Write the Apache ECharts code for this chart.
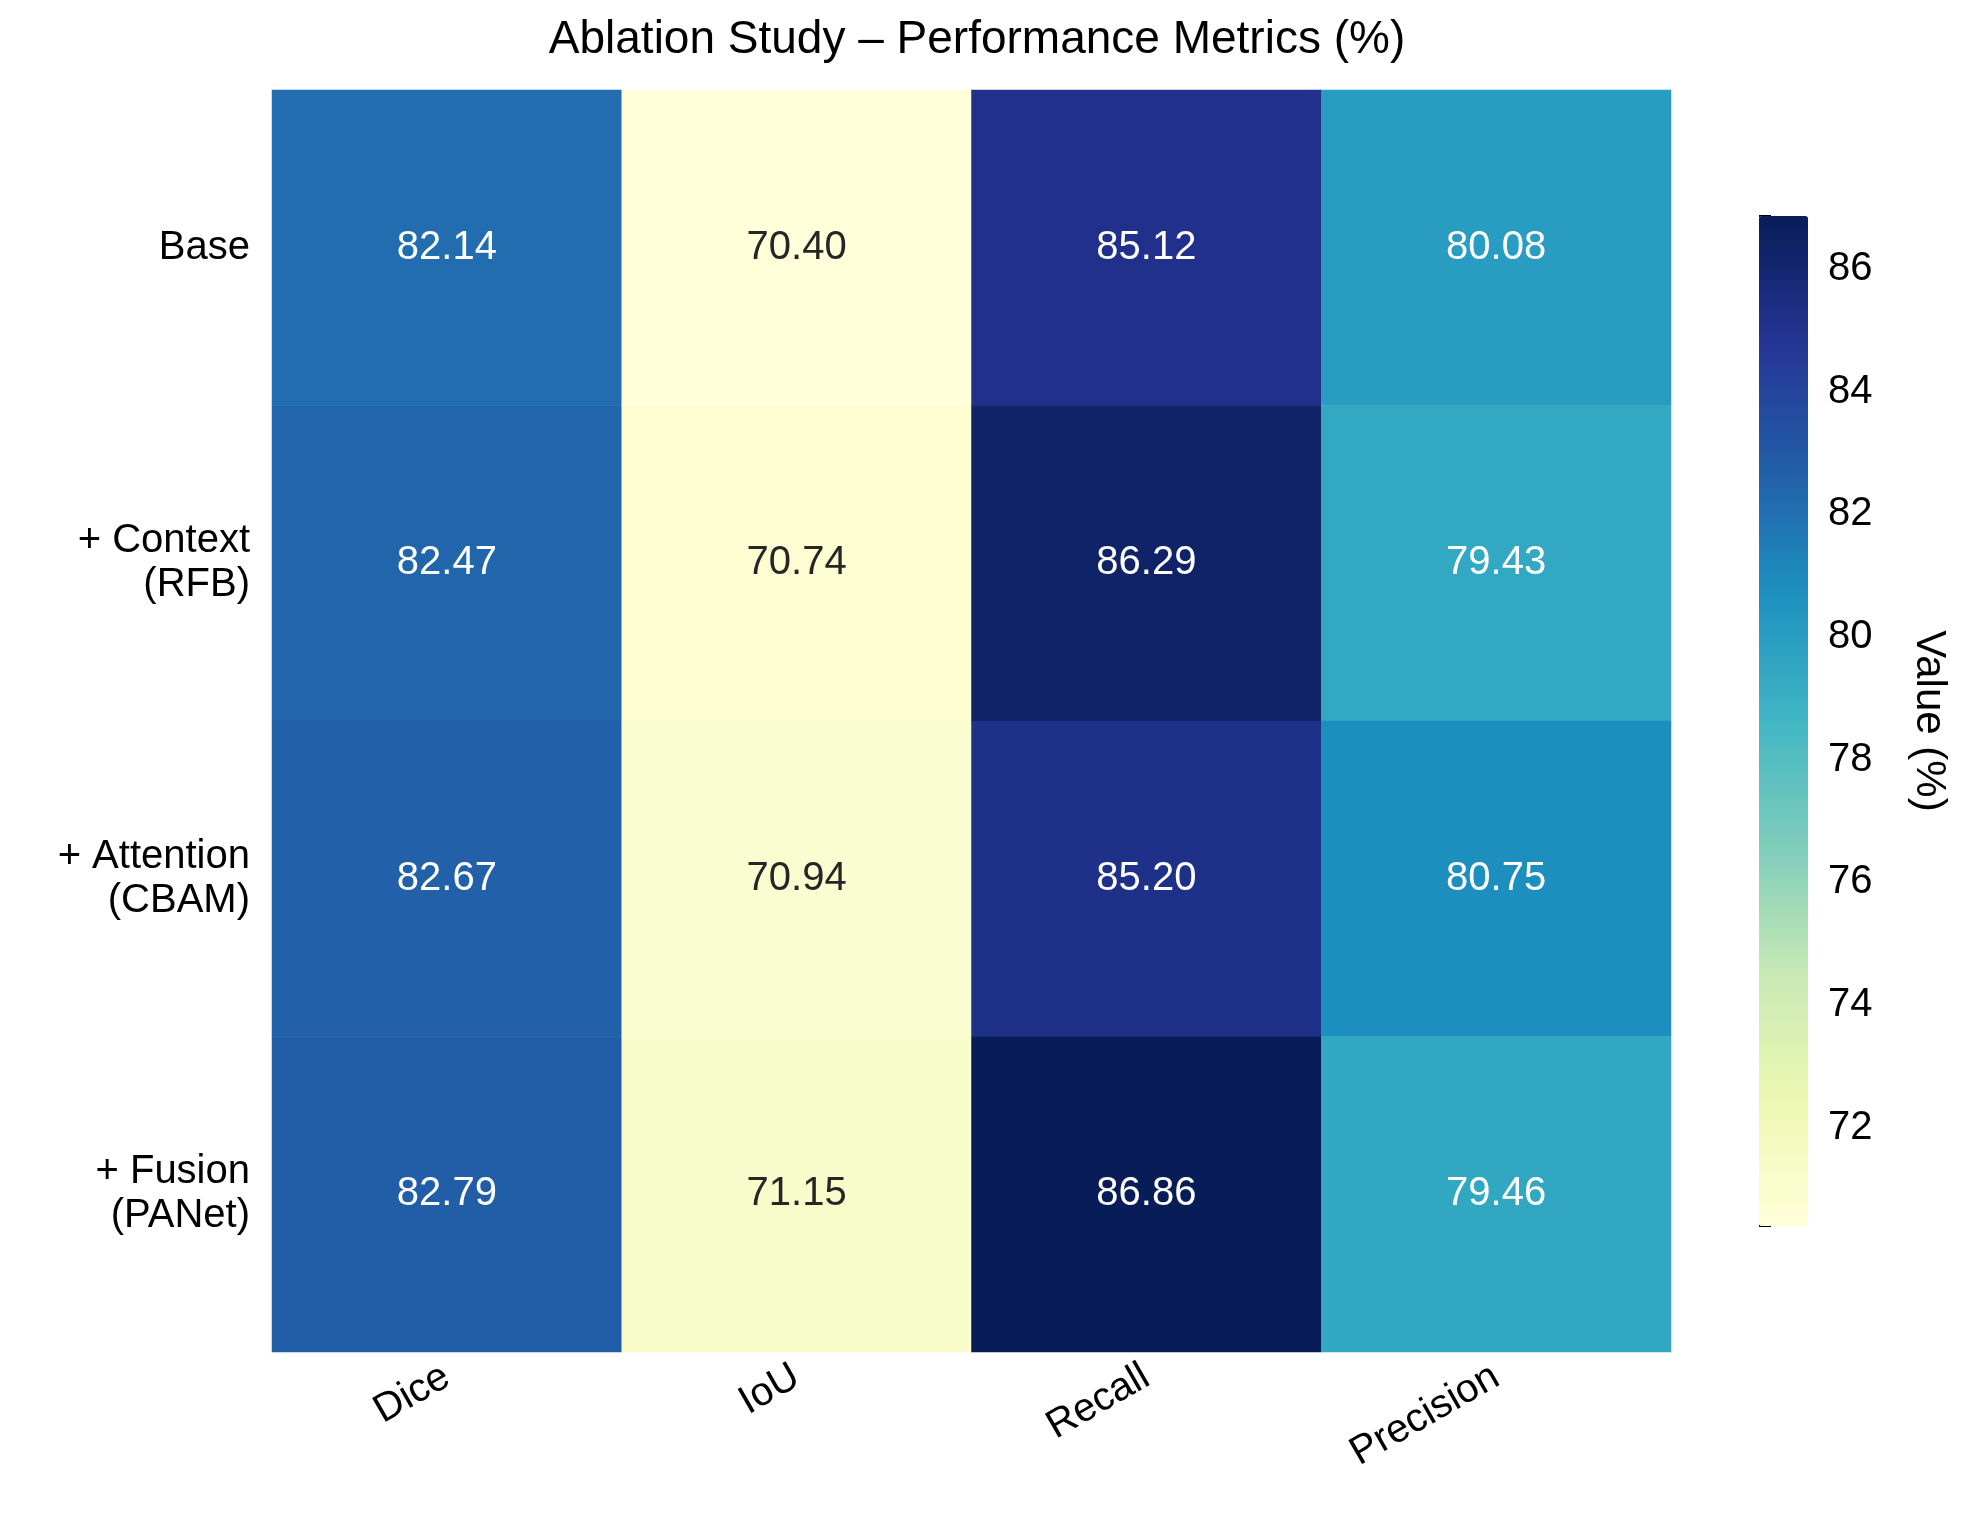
<!DOCTYPE html>
<html>
<head>
<meta charset="utf-8">
<script src="https://cdn.jsdelivr.net/npm/echarts@6/dist/echarts.min.js"></script>
<style>html,body{margin:0;padding:0;background:#fff}#main{width:1971px;height:1521px}</style>
</head>
<body>
<div id="main"></div>
<script>
// data
const metrics = ["Dice", "IoU", "Recall", "Precision"]
const variants = ["Base", "+ Context\n(RFB)", "+ Attention\n(CBAM)", "+ Fusion\n(PANet)"]
const dice = [82.14, 82.47, 82.67, 82.79]
const iou = [70.40, 70.74, 70.94, 71.15]
const recall = [85.12, 86.29, 85.20, 86.86]
const precision = [80.08, 79.43, 80.75, 79.46]
const colorTicks = [72, 74, 76, 78, 80, 82, 84, 86]

const columns = [dice, iou, recall, precision]
const all = columns.flat()
const vMin = Math.min(...all)
const vMax = Math.max(...all)
const ylgnbu = ["#ffffd9","#edf8b1","#c7e9b4","#7fcdbb","#41b6c4","#1d91c0","#225ea8","#253494","#081d58"]

const cells = []
columns.forEach((col, x) => col.forEach((v, y) => {
  cells.push({ value: [x, y, v], label: { color: v > 76 ? "#ffffff" : "#262626" } })
}))

const font = "Arial, 'Liberation Sans', sans-serif"
const chart = echarts.init(document.getElementById("main"))
chart.setOption({
  animation: false,
  textStyle: { fontFamily: font },
  title: {
    text: "Ablation Study – Performance Metrics (%)",
    left: 972, top: 12, textAlign: "center",
    textStyle: { fontSize: 46, fontWeight: "normal", color: "#000", fontFamily: font }
  },
  grid: [
    { left: 272, top: 90, width: 1399, height: 1262 },
    { left: 1759, top: 216, width: 49, height: 1010 }
  ],
  xAxis: [
    {
      type: "category", data: metrics, gridIndex: 0,
      axisLine: { show: false },
      axisTick: { alignWithLabel: true, length: 12, lineStyle: { color: "#000", width: 2 } },
      axisLabel: { rotate: 30, fontSize: 40, color: "#000", margin: 22, fontFamily: font },
      splitArea: { show: false }
    },
    { type: "value", gridIndex: 1, show: false, min: 0, max: 1 }
  ],
  yAxis: [
    {
      type: "category", data: variants, gridIndex: 0, inverse: true,
      axisLine: { show: false },
      axisTick: { alignWithLabel: true, length: 12, lineStyle: { color: "#000", width: 2 } },
      axisLabel: { fontSize: 40, color: "#000", margin: 22, lineHeight: 44, align: "right", fontFamily: font }
    },
    {
      type: "value", gridIndex: 1, position: "right", min: vMin, max: vMax,
      interval: 2,
      axisLine: { show: false },
      axisTick: { show: true, length: 12, lineStyle: { color: "#000", width: 2 } },
      axisLabel: {
        fontSize: 40, color: "#000", margin: 20, fontFamily: font,
        customValues: colorTicks
      },
      splitLine: { show: false },
      name: "Value (%)", nameLocation: "middle", nameGap: 100, nameRotate: -90,
      nameTextStyle: { fontSize: 42, color: "#000", fontFamily: font }
    }
  ],
  visualMap: {
    type: "continuous", min: vMin, max: vMax, calculable: false,
    seriesIndex: 0, left: 1759, top: 216, itemWidth: 49, itemHeight: 1010,
    padding: 0, text: null, showLabel: false,
    inRange: { color: ylgnbu }
  },
  series: [{
    type: "heatmap", xAxisIndex: 0, yAxisIndex: 0, data: cells,
    label: { show: true, fontSize: 40, fontFamily: font, formatter: p => p.value[2].toFixed(2) },
    itemStyle: { borderWidth: 0 },
    emphasis: { disabled: true }
  }]
})
window.onresize = () => chart.resize()
</script>
</body>
</html>
